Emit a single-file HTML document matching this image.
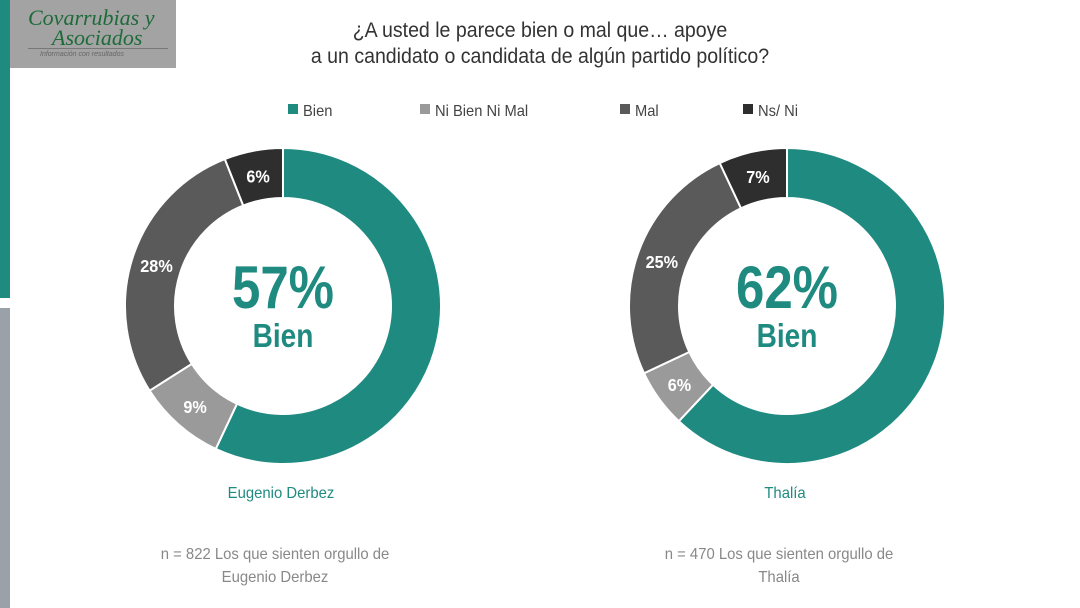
<!DOCTYPE html>
<html><head><meta charset="utf-8"><style>
body{margin:0;width:1080px;height:608px;background:#fff;font-family:"Liberation Sans",Arial,sans-serif;overflow:hidden;position:relative}
.abs{position:absolute}
</style></head><body>
<div class="abs" style="left:0;top:0;width:10px;height:298px;background:#1f8a80"></div>
<div class="abs" style="left:0;top:308px;width:10px;height:300px;background:#9aa1a8"></div>
<div class="abs" style="left:10px;top:0;width:166px;height:68px;background:#a3a3a3">
  <div style="position:absolute;left:18px;top:8px;font-family:'Liberation Serif',serif;font-style:italic;color:#1e6b3a;font-size:22px;line-height:20px">Covarrubias y<br><span style="padding-left:24px">Asociados</span></div>
  <div style="position:absolute;left:18px;top:48px;width:140px;border-top:1px solid #777"></div>
  <div style="position:absolute;left:30px;top:51px;font-size:7px;color:#666;font-style:italic">Información con resultados</div>
</div>
<div class="abs" style="left:230px;top:18px;width:620px;text-align:center;font-size:21px;line-height:26px;color:#333;transform:scaleX(0.93);transform-origin:50% 0">¿A usted le parece bien o mal que… apoye<br>a un candidato o candidata de algún partido político?</div>
<svg class="abs" style="left:0;top:0" width="1080" height="608" id="chart"></svg>
<script>
const categories=["Bien","Ni Bien Ni Mal","Mal","Ns/ Ni"];
const colors=["#1f8a80","#9a9a9a","#5a5a5a","#2e2e2e"];
const derbezValues=[57,9,28,6];
const thaliaValues=[62,6,25,7];
const names=["Eugenio Derbez","Thalía"];
const notes=["n = 822 Los que sienten orgullo de|Eugenio Derbez","n = 470 Los que sienten orgullo de|Thalía"];
const NS="http://www.w3.org/2000/svg";
const svg=document.getElementById('chart');
function mk(t,a,parent){const e=document.createElementNS(NS,t);for(const k in a)e.setAttribute(k,a[k]);(parent||svg).appendChild(e);return e;}
const legX=[288,420,620,743];
categories.forEach((c,i)=>{
  const r=mk('rect',{x:legX[i],y:104,width:10,height:10,fill:colors[i]});
  
  
  const t=mk('text',{x:legX[i]+15,y:116,'font-size':16,fill:'#444',transform:`translate(${(legX[i]+15)*0.08},0) scale(0.92,1)`});
  t.textContent=c;
  
  
});
function pt(cx,cy,r,a){return [cx+r*Math.sin(a),cy-r*Math.cos(a)];}
function donut(vals,cx,cy,idx){
  const R=158,r=108;let cum=0;const tot=vals.reduce((a,b)=>a+b,0);
  vals.forEach((v,i)=>{
    const a0=cum/tot*2*Math.PI,a1=(cum+v)/tot*2*Math.PI;cum+=v;
    const lg=(a1-a0)>Math.PI?1:0;
    const p0=pt(cx,cy,R,a0),p1=pt(cx,cy,R,a1),q1=pt(cx,cy,r,a1),q0=pt(cx,cy,r,a0);
    const p=mk('path',{d:`M${p0}A${R},${R} 0 ${lg} 1 ${p1}L${q1}A${r},${r} 0 ${lg} 0 ${q0}Z`,fill:colors[i],stroke:'#fff','stroke-width':2});
    
    
    if(i>0){const m=pt(cx,cy,133,(a0+a1)/2);
      const t=mk('text',{x:0,y:0,'text-anchor':'middle','font-size':18,'font-weight':'bold',fill:'#fff',transform:`translate(${m[0]},${m[1]+7}) scale(0.9,1)`});
      t.textContent=v+'%';
      
      }
  });
  const g=mk('g',{transform:`translate(${cx},${cy}) scale(0.85,1)`});
  
  
  const big=mk('text',{x:0,y:2,'text-anchor':'middle','font-size':60,'font-weight':'bold',fill:'#1f8a80'},g);
  big.textContent=vals[0]+'%';
  
  
  const b=mk('text',{x:0,y:41,'text-anchor':'middle','font-size':33,'font-weight':'bold',fill:'#1f8a80'},g);
  b.textContent='Bien';
  
  
  const n=mk('text',{x:0,y:0,'text-anchor':'middle','font-size':16,fill:'#1f8a80',transform:`translate(${cx-2},498) scale(0.93,1)`});
  n.textContent=names[idx];
  
  
  notes[idx].split('|').forEach((l,j)=>{
    const t=mk('text',{x:0,y:0,'text-anchor':'middle','font-size':16,fill:'#888',transform:`translate(${cx-8},${559+j*23}) scale(0.93,1)`});
    t.textContent=l;
    
    
  });
}
donut(derbezValues,283,306,0);
donut(thaliaValues,787,306,1);
</script>
</body></html>
